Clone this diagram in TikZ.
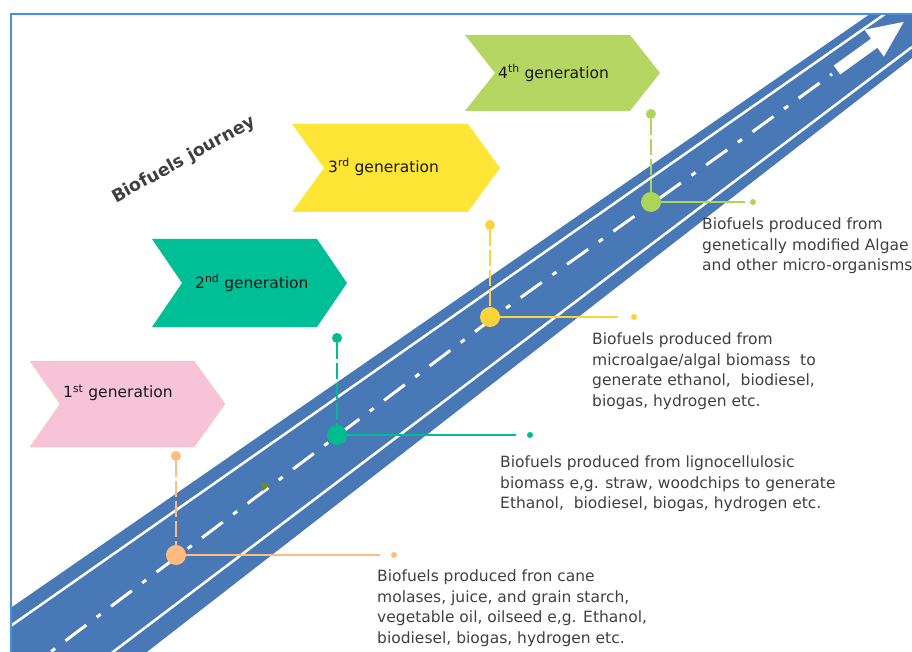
\documentclass[tikz,border=0pt]{standalone}
\usepackage{fontspec}
\setmainfont{DejaVu Sans}
\usetikzlibrary{arrows.meta,positioning}
\definecolor{roadblue}{RGB}{72,120,182}
\definecolor{frameblue}{RGB}{66,146,220}
\definecolor{textgray}{RGB}{64,64,64}
\definecolor{pinkgen}{RGB}{246,195,216}
\definecolor{peach}{RGB}{250,200,155}
\definecolor{greengen}{RGB}{0,191,150}
\definecolor{yellowgen}{RGB}{255,229,54}
\definecolor{limegen}{RGB}{181,214,99}
\definecolor{orangemark}{RGB}{255,188,128}
\definecolor{greenmark}{RGB}{0,188,142}
\definecolor{yellowmark}{RGB}{255,210,60}
\definecolor{limemark}{RGB}{172,213,90}
\definecolor{olivetip}{RGB}{107,142,35}

\begin{document}
\begin{tikzpicture}
 [x=1pt,y=-1pt,
 gen/.style={
  font=\fontsize{15.5}{18}\selectfont,
  text=black!90,
  anchor=west,
  inner sep=0pt},
 info/.style={
  font=\fontsize{15.5}{20.5}\selectfont,
  text=textgray,
  anchor=north west,
  align=left,
  inner sep=0pt},
 stopdot/.style={circle, fill=#1, minimum size=20pt, inner sep=0pt},
 topdot/.style={circle, fill=#1, minimum size=10pt, inner sep=0pt},
 taildot/.style={circle, fill=#1, minimum size=6pt, inner sep=0pt},
 riser/.style={draw=#1, line width=1.5pt, dash pattern=on 16pt off 4pt},
 leader/.style={draw=#1, line width=1.5pt},
 lane/.style={white, line width=2.5pt}]
\useasboundingbox (0,0) rectangle (912,652);
% road
\begin{scope}
\clip (12,14) rectangle (912,652);
\fill[roadblue] (0,615.3) -- (912,-15) -- (912,58) -- (0,766) -- cycle;
\draw[lane] (0,633.4) -- (912,-5);
\draw[lane] (0,737.5) -- (912,47);
\draw[white, line width=3pt, dash pattern=on 26pt off 13pt on 5pt off 13pt]
  (20,675) -- (282,477.5) -- (513,303) -- (755,130) -- (832,74);
\draw[white, line width=11pt, -{Triangle[length=38pt,width=30pt]}] (837,70) -- (905,21);
\fill[olivetip] (261,482) -- (270,485) -- (263,491) -- cycle;
\end{scope}
\draw[frameblue, line width=2pt] (11,660) -- (11,14) -- (920,14);

\node (title) [font=\bfseries\fontsize{17.5}{20}\selectfont, text=textgray, rotate=29] at (184,160) {Biofuels journey};

\fill[pinkgen, draw=peach] (30,361) -- (194,361) -- (225,404) -- (194,447) -- (30,447) -- (60,404) -- cycle;
\fill[greengen] (152,239) -- (317,239) -- (347,283) -- (317,327) -- (152,327) -- (182,283) -- cycle;
\fill[yellowgen] (292,124) -- (468,124) -- (500,168) -- (468,212) -- (292,212) -- (324,168) -- cycle;
\fill[limegen] (465,35) -- (630,35) -- (660,73) -- (630,111) -- (465,111) -- (495,73) -- cycle;
\node (gen1) [gen] at (63,393) {1\textsuperscript{st} generation};
\node (gen2) [gen] at (195,283) {2\textsuperscript{nd} generation};
\node (gen3) [gen] at (328,167) {3\textsuperscript{rd} generation};
\node (gen4) [gen] at (498,73) {4\textsuperscript{th} generation};

\node (stop1) [stopdot=orangemark] at (176,555) {};
\node (top1) [topdot=orangemark] at (176,456) {};
\node (tail1) [taildot=orangemark] at (394,555) {};
\coordinate (end1) at (380,555);
\node (stop2) [stopdot=greenmark] at (337,435) {};
\node (top2) [topdot=greenmark] at (337,338) {};
\node (tail2) [taildot=greenmark] at (530,435) {};
\coordinate (end2) at (516,435);
\node (stop3) [stopdot=yellowmark] at (490,317) {};
\node (top3) [topdot=yellowmark] at (490,225) {};
\node (tail3) [taildot=yellowmark] at (634,317) {};
\coordinate (end3) at (618,317);
\node (stop4) [stopdot=limemark] at (651,202) {};
\node (top4) [topdot=limemark] at (651,114) {};
\node (tail4) [taildot=limemark] at (753,202) {};
\coordinate (end4) at (745,202);
\path (top1) edge[riser=orangemark] (stop1);
\path (stop1) edge[leader=orangemark] (end1);
\path (top2) edge[riser=greenmark] (stop2);
\path (stop2) edge[leader=greenmark] (end2);
\path (top3) edge[riser=yellowmark] (stop3);
\path (stop3) edge[leader=yellowmark] (end3);
\path (top4) edge[riser=limemark] (stop4);
\path (stop4) edge[leader=limemark] (end4);

\node (text1) [info] at (377,570) {Biofuels produced fron cane\\molases, juice, and grain starch,\\vegetable oil, oilseed e,g. Ethanol,\\biodiesel, biogas, hydrogen etc.};
\node (text2) [info] at (500,456) {Biofuels produced from lignocellulosic\\biomass e,g. straw, woodchips to generate\\Ethanol,~ biodiesel, biogas, hydrogen etc.};
\node (text3) [info] at (592,333) {Biofuels produced from\\microalgae/algal biomass~ to\\generate ethanol,~ biodiesel,\\biogas, hydrogen etc.};
\node (text4) [info] at (702,218) {Biofuels produced from\\genetically modified Algae\\and other micro-organisms};
\end{tikzpicture}
\end{document}
